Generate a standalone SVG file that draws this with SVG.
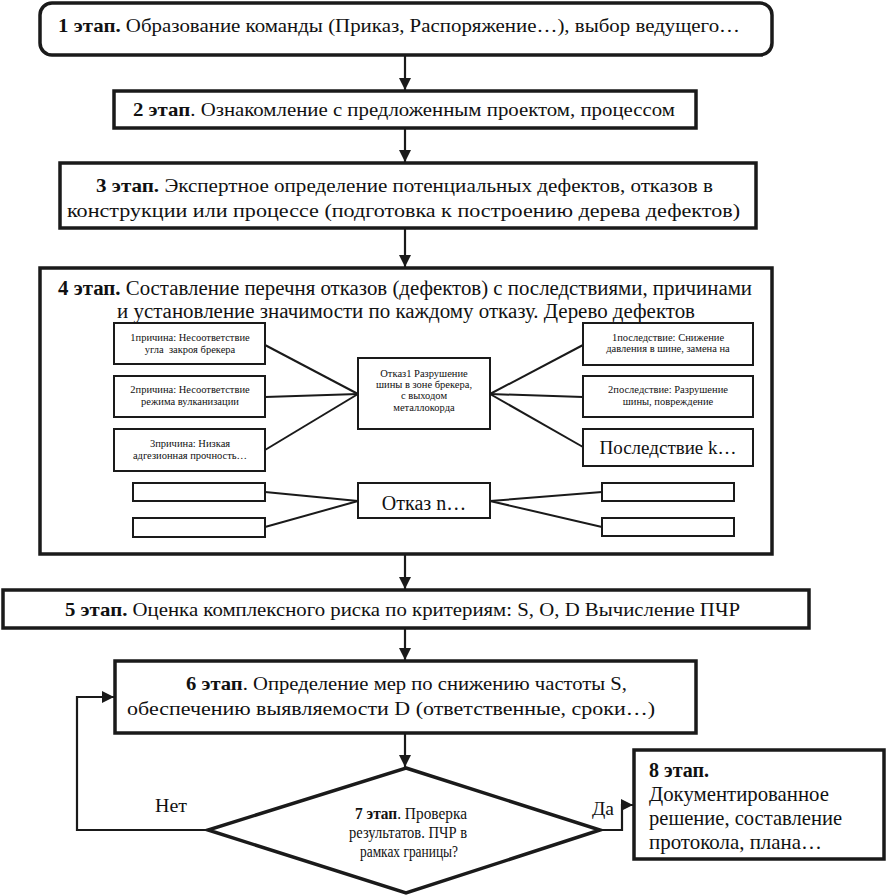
<svg xmlns="http://www.w3.org/2000/svg" width="886" height="895" viewBox="0 0 886 895" font-family="'Liberation Serif', 'Times New Roman', 'DejaVu Serif', serif">
<style>
text{font-family:'Liberation Serif','Times New Roman','DejaVu Serif',serif;fill:#111;}
.b{font-weight:bold;}
.stage{fill:#fff;stroke:#1a1a1a;stroke-width:3.5;}
.tb{fill:#fff;stroke:#1a1a1a;stroke-width:2;}
.tl{fill:none;stroke:#1a1a1a;stroke-width:2;}
.conn{fill:none;stroke:#1a1a1a;stroke-width:2.2;}
.s19{font-size:19px;}
.s20{font-size:20px;}
.sm{font-size:10.5px;text-anchor:middle;}
.mid{text-anchor:middle;}
</style>
<defs>
<marker id="ah" markerUnits="userSpaceOnUse" markerWidth="12" markerHeight="12" viewBox="0 0 12 12" refX="12" refY="6" orient="auto">
<path d="M0,0 L12,6 L0,12 Z" fill="#1a1a1a"/>
</marker>
</defs>

<g id="connectors">
<line class="conn" x1="405" y1="55" x2="405" y2="90" marker-end="url(#ah)"/>
<line class="conn" x1="405" y1="128" x2="405" y2="162" marker-end="url(#ah)"/>
<line class="conn" x1="405" y1="228" x2="405" y2="267" marker-end="url(#ah)"/>
<line class="conn" x1="405" y1="554" x2="405" y2="589" marker-end="url(#ah)"/>
<line class="conn" x1="405" y1="628" x2="405" y2="660" marker-end="url(#ah)"/>
<line class="conn" x1="405" y1="733" x2="405" y2="767" marker-end="url(#ah)"/>
<polyline class="conn" points="208,830 77,830 77,697 114,697" marker-end="url(#ah)"/>
<polyline class="conn" points="600,830 622,830 622,805 633,805" marker-end="url(#ah)"/>
<text x="155" y="812" font-size="18" textLength="32" lengthAdjust="spacingAndGlyphs">Нет</text>
<text x="592" y="815" font-size="18" textLength="22" lengthAdjust="spacingAndGlyphs">Да</text>
</g>

<g id="stage1">
<rect class="stage" x="40" y="3" width="732" height="52" rx="12"/>
<text class="s19" x="58" y="32" textLength="682" lengthAdjust="spacingAndGlyphs"><tspan class="b">1 этап.</tspan> Образование команды (Приказ, Распоряжение…), выбор ведущего…</text>
</g>

<g id="stage2">
<rect class="stage" x="114" y="91" width="582" height="37"/>
<text class="s19" x="133" y="116" textLength="542" lengthAdjust="spacingAndGlyphs"><tspan class="b">2 этап</tspan>. Ознакомление с предложенным проектом, процессом</text>
</g>

<g id="stage3">
<rect class="stage" x="60" y="163" width="696" height="65"/>
<text class="s19" x="96" y="192" textLength="617" lengthAdjust="spacingAndGlyphs"><tspan class="b">3 этап.</tspan> Экспертное определение потенциальных дефектов, отказов в</text>
<text class="s19" x="67" y="217" textLength="673" lengthAdjust="spacingAndGlyphs">конструкции или процессе (подготовка к построению дерева дефектов)</text>
</g>

<g id="stage4">
<rect class="stage" x="40" y="268" width="732" height="286"/>
<text class="s20" x="58" y="295" textLength="694" lengthAdjust="spacingAndGlyphs"><tspan class="b">4 этап.</tspan> Составление перечня отказов (дефектов) с последствиями, причинами</text>
<text class="s20" x="117" y="318" textLength="578" lengthAdjust="spacingAndGlyphs">и установление значимости по каждому отказу. Дерево дефектов</text>
</g>

<g id="tree-lines">
<line class="tl" x1="265" y1="345" x2="358" y2="394"/>
<line class="tl" x1="265" y1="397" x2="358" y2="394"/>
<line class="tl" x1="265" y1="450" x2="358" y2="394"/>
<line class="tl" x1="490" y1="394" x2="583" y2="345"/>
<line class="tl" x1="490" y1="394" x2="583" y2="397"/>
<line class="tl" x1="490" y1="394" x2="583" y2="447"/>
<line class="tl" x1="265" y1="492" x2="358" y2="501"/>
<line class="tl" x1="265" y1="527" x2="358" y2="501"/>
<line class="tl" x1="490" y1="501" x2="602" y2="492"/>
<line class="tl" x1="490" y1="501" x2="602" y2="527"/>
</g>

<g id="cause1">
<rect class="tb" x="114" y="323" width="151" height="41"/>
<text class="sm" x="190" y="341">1причина: Несоответствие</text>
<text class="sm" x="190" y="353" xml:space="preserve">угла  закроя брекера</text>
</g>
<g id="cause2">
<rect class="tb" x="114" y="376" width="151" height="41"/>
<text class="sm" x="190" y="393">2причина: Несоответствие</text>
<text class="sm" x="190" y="405">режима вулканизации</text>
</g>
<g id="cause3">
<rect class="tb" x="114" y="429" width="151" height="42"/>
<text class="sm" x="190" y="447">3причина: Низкая</text>
<text class="sm" x="190" y="459">адгезионная прочность…</text>
</g>
<g id="failure1">
<rect class="tb" x="358" y="358" width="132" height="71"/>
<text class="sm" x="424" y="377">Отказ1 Разрушение</text>
<text class="sm" x="424" y="388">шины в зоне брекера,</text>
<text class="sm" x="424" y="399">с выходом</text>
<text class="sm" x="424" y="411">металлокорда</text>
</g>
<g id="effect1">
<rect class="tb" x="583" y="323" width="170" height="42"/>
<text class="sm" x="668" y="341">1последствие: Снижение</text>
<text class="sm" x="668" y="352">давления в шине, замена на</text>
</g>
<g id="effect2">
<rect class="tb" x="583" y="376" width="170" height="41"/>
<text class="sm" x="668" y="393">2последствие: Разрушение</text>
<text class="sm" x="668" y="405">шины, повреждение</text>
</g>
<g id="effectk">
<rect class="tb" x="583" y="429" width="170" height="37"/>
<text class="mid" x="668" y="454" font-size="19">Последствие k…</text>
</g>
<g id="failuren">
<rect class="tb" x="358" y="483" width="132" height="35"/>
<text class="mid" x="424" y="510" font-size="20">Отказ n…</text>
</g>
<g id="causen1"><rect class="tb" x="133" y="483" width="132" height="18"/></g>
<g id="causen2"><rect class="tb" x="133" y="518" width="132" height="19"/></g>
<g id="effectn1"><rect class="tb" x="602" y="483" width="132" height="18"/></g>
<g id="effectn2"><rect class="tb" x="602" y="518" width="132" height="18"/></g>

<g id="stage5">
<rect class="stage" x="3" y="590" width="806" height="38"/>
<text class="s19" x="65" y="616" textLength="675" lengthAdjust="spacingAndGlyphs"><tspan class="b">5 этап.</tspan> Оценка комплексного риска по критериям: S, O, D Вычисление ПЧР</text>
</g>

<g id="stage6">
<rect class="stage" x="115" y="661" width="581" height="72"/>
<text class="s19" x="186" y="690" textLength="441" lengthAdjust="spacingAndGlyphs"><tspan class="b">6 этап</tspan>. Определение мер по снижению частоты S,</text>
<text class="s19" x="127" y="715" textLength="528" lengthAdjust="spacingAndGlyphs">обеспечению выявляемости D (ответственные, сроки…)</text>
</g>

<g id="stage7">
<polygon class="stage" points="406,768 600,830 406,893 208,830"/>
<text x="355" y="819" font-size="16" textLength="112" lengthAdjust="spacingAndGlyphs"><tspan class="b">7 этап</tspan>. Проверка</text>
<text class="mid" x="408" y="838" font-size="16" textLength="118" lengthAdjust="spacingAndGlyphs">результатов. ПЧР в</text>
<text class="mid" x="409" y="857" font-size="16" textLength="98" lengthAdjust="spacingAndGlyphs">рамках границы?</text>
</g>

<g id="stage8">
<rect class="stage" x="634" y="750" width="250" height="109"/>
<text x="649" y="777" font-size="20" class="b">8 этап.</text>
<text x="649" y="801" font-size="21" textLength="180" lengthAdjust="spacingAndGlyphs">Документированное</text>
<text x="649" y="825" font-size="21" textLength="193" lengthAdjust="spacingAndGlyphs">решение, составление</text>
<text x="649" y="849" font-size="21" textLength="173" lengthAdjust="spacingAndGlyphs">протокола, плана…</text>
</g>
</svg>
